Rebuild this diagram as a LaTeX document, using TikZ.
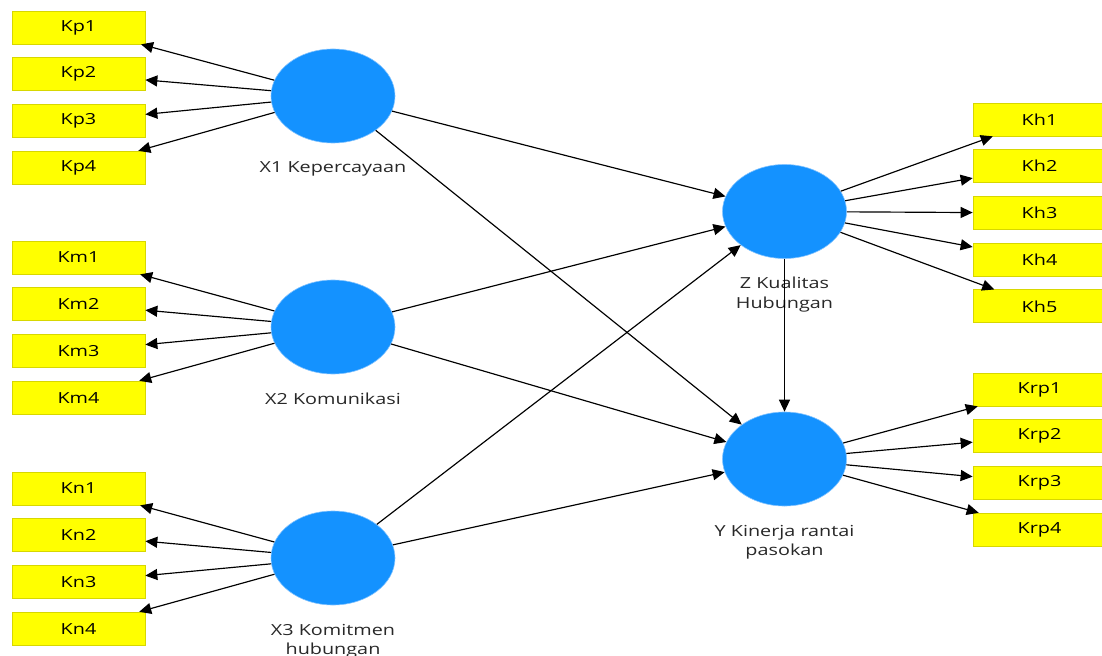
\documentclass[tikz,border=0pt]{standalone}
\usepackage{fontspec}
\newfontfamily\plsfont[FakeStretch=1.3]{Open Sans}
\usetikzlibrary{shapes.geometric, positioning, arrows.meta}
\definecolor{lvblue}{RGB}{20,146,255}
\definecolor{lvedge}{RGB}{130,195,255}
\definecolor{indfill}{RGB}{255,255,0}
\definecolor{indedge}{RGB}{215,215,0}
\definecolor{labelgray}{RGB}{40,40,40}
\tikzset{
  latent/.style={ellipse, minimum width=3.72cm, minimum height=2.82cm, fill=lvblue, draw=lvedge, line width=0.5pt},
  indicator/.style={rectangle, minimum width=3.99cm, minimum height=0.99cm, inner sep=0pt, fill=indfill, draw=indedge, line width=0.6pt, font=\plsfont\fontsize{13}{17}\selectfont},
  lvlabel/.style={align=center, inner sep=0pt, text=labelgray, font=\plsfont\fontsize{13}{17}\selectfont},
  arrow/.style={line width=1pt, -{Triangle[length=0.36cm, width=0.33cm]}}
}
\begin{document}
\begin{tikzpicture}[x=0.03cm, y=-0.03cm]
        \useasboundingbox [fill=white] (0,0) rectangle (1102,656);

        % konstruk laten
        \node (X1) [latent] at (333,96) {};
        \node (X2) [latent] at (333,327) {};
        \node (X3) [latent] at (333,558) {};
        \node (Z) [latent] at (784.5,211.5) {};
        \node (Y) [latent] at (784.5,459) {};

        \node (X1lab) [lvlabel, below=0.55cm of X1] {X1 Kepercayaan};
        \node (X2lab) [lvlabel, below=0.55cm of X2] {X2 Komunikasi};
        \node (X3lab) [lvlabel, below=0.55cm of X3] {X3 Komitmen\\hubungan};
        \node (Zlab) [lvlabel, below=0.55cm of Z] {Z Kualitas\\Hubungan};
        \node (Ylab) [lvlabel, below=0.55cm of Y] {Y Kinerja rantai\\pasokan};

        % indikator X1
        \node (Kp1) [indicator] at (78.5,27.5) {Kp1};
        \node (Kp2) [indicator, below=0.39cm of Kp1] {Kp2};
        \node (Kp3) [indicator, below=0.39cm of Kp2] {Kp3};
        \node (Kp4) [indicator, below=0.39cm of Kp3] {Kp4};

        % indikator X2
        \node (Km1) [indicator] at (78.5,257.5) {Km1};
        \node (Km2) [indicator, below=0.39cm of Km1] {Km2};
        \node (Km3) [indicator, below=0.39cm of Km2] {Km3};
        \node (Km4) [indicator, below=0.39cm of Km3] {Km4};

        % indikator X3
        \node (Kn1) [indicator] at (78.5,488.5) {Kn1};
        \node (Kn2) [indicator, below=0.39cm of Kn1] {Kn2};
        \node (Kn3) [indicator, below=0.39cm of Kn2] {Kn3};
        \node (Kn4) [indicator, below=0.39cm of Kn3] {Kn4};

        % indikator Z
        \node (Kh1) [indicator] at (1039.5,119.5) {Kh1};
        \node (Kh2) [indicator, below=0.39cm of Kh1] {Kh2};
        \node (Kh3) [indicator, below=0.39cm of Kh2] {Kh3};
        \node (Kh4) [indicator, below=0.39cm of Kh3] {Kh4};
        \node (Kh5) [indicator, below=0.39cm of Kh4] {Kh5};

        % indikator Y
        \node (Krp1) [indicator] at (1039.5,389.5) {Krp1};
        \node (Krp2) [indicator, below=0.39cm of Krp1] {Krp2};
        \node (Krp3) [indicator, below=0.39cm of Krp2] {Krp3};
        \node (Krp4) [indicator, below=0.39cm of Krp3] {Krp4};

        % model pengukuran
        \draw [arrow] (X1) -- (Kp1);
        \draw [arrow] (X1) -- (Kp2);
        \draw [arrow] (X1) -- (Kp3);
        \draw [arrow] (X1) -- (Kp4);
        \draw [arrow] (X2) -- (Km1);
        \draw [arrow] (X2) -- (Km2);
        \draw [arrow] (X2) -- (Km3);
        \draw [arrow] (X2) -- (Km4);
        \draw [arrow] (X3) -- (Kn1);
        \draw [arrow] (X3) -- (Kn2);
        \draw [arrow] (X3) -- (Kn3);
        \draw [arrow] (X3) -- (Kn4);
        \draw [arrow] (Z) -- (Kh1);
        \draw [arrow] (Z) -- (Kh2);
        \draw [arrow] (Z) -- (Kh3);
        \draw [arrow] (Z) -- (Kh4);
        \draw [arrow] (Z) -- (Kh5);
        \draw [arrow] (Y) -- (Krp1);
        \draw [arrow] (Y) -- (Krp2);
        \draw [arrow] (Y) -- (Krp3);
        \draw [arrow] (Y) -- (Krp4);

        % model struktural
        \draw [arrow] (X1) -- (Z);
        \draw [arrow] (X1) -- (Y);
        \draw [arrow] (X2) -- (Z);
        \draw [arrow] (X2) -- (Y);
        \draw [arrow] (X3) -- (Z);
        \draw [arrow] (X3) -- (Y);
        \draw [arrow] (Z) -- (Y);
    \end{tikzpicture}
\end{document}
